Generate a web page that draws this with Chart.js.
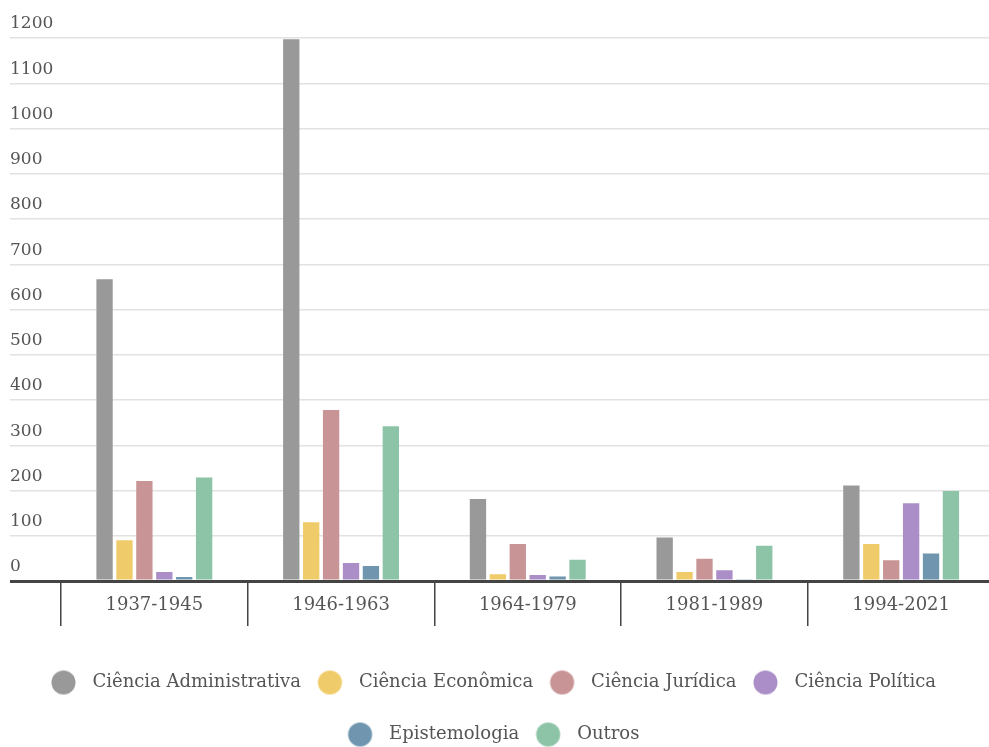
<!DOCTYPE html>
<html lang="pt">
<head>
<meta charset="utf-8">
<title>Produção por área e período</title>
<script src="https://cdn.jsdelivr.net/npm/chart.js@4/dist/chart.umd.min.js"></script>
<style>
  html, body { margin: 0; padding: 0; background: #ffffff; overflow: hidden; }
  #wrap { width: 1000px; height: 754px; }
</style>
</head>
<body>
<div id="wrap"><canvas id="chart" width="1000" height="754"></canvas></div>
<script>
// Periods on the category axis
const periods = ['1937-1945', '1946-1963', '1964-1979', '1981-1989', '1994-2021'];

// Counts per area, one value per period
const cienciaAdministrativa = [667, 1197, 181, 96, 211];
const cienciaEconomica      = [90, 130, 15, 20, 82];
const cienciaJuridica       = [221, 378, 82, 49, 46];
const cienciaPolitica       = [20, 40, 13, 24, 172];
const epistemologia         = [9, 33, 10, 4, 61];
const outros                = [229, 342, 47, 78, 199];

// Value axis ticks
const yTickValues = [0, 100, 200, 300, 400, 500, 600, 700, 800, 900, 1000, 1100, 1200];

const seriesNames = ['Ciência Administrativa', 'Ciência Econômica', 'Ciência Jurídica',
                     'Ciência Política', 'Epistemologia', 'Outros'];
const seriesValues = [cienciaAdministrativa, cienciaEconomica, cienciaJuridica,
                      cienciaPolitica, epistemologia, outros];
const seriesColors = ['#999999', '#f0cb6a', '#c99496', '#ab8ec7', '#6f96ae', '#8dc4a7'];

const FONT = "'DejaVu Serif', 'Liberation Serif', serif";
const TEXT = '#555555';
const LEGEND_SIZE = 18;
const LEGEND_PAD = 34;
const LEGEND_BOX = 58 - LEGEND_PAD - LEGEND_SIZE / 2;
const DOT_SHIFT = 29 - LEGEND_PAD - LEGEND_BOX / 2;

// Round legend marker with room around it so the dot sits left of the text gap
function makeDot(color) {
  const c = document.createElement('canvas');
  c.width = 80; c.height = 30;
  const g = c.getContext('2d');
  g.fillStyle = color;
  g.beginPath();
  g.arc(40 + DOT_SHIFT, 15, 12, 0, Math.PI * 2);
  g.fill();
  return c;
}
const dots = seriesColors.map(makeDot);

const datasets = seriesNames.map((name, i) => ({
  label: name,
  data: seriesValues[i],
  backgroundColor: seriesColors[i],
  borderWidth: 0,
  categoryPercentage: 0.64,
  barPercentage: 0.82
}));

new Chart(document.getElementById('chart'), {
  type: 'bar',
  data: { labels: periods, datasets },
  options: {
    responsive: false,
    animation: false,
    layout: { padding: { top: 38, left: 10, right: 5.5, bottom: 0.5 } },
    plugins: {
      tooltip: { enabled: false },
      legend: {
        position: 'bottom',
        labels: {
          usePointStyle: true,
          pointStyleWidth: LEGEND_BOX,
          padding: LEGEND_PAD,
          color: TEXT,
          font: { family: FONT, size: LEGEND_SIZE },
          generateLabels(chart) {
            const items = Chart.defaults.plugins.legend.labels.generateLabels(chart);
            items.forEach((it, i) => { it.pointStyle = dots[i]; });
            return items;
          }
        }
      }
    },
    scales: {
      x: {
        z: 1,
        grid: {
          offset: true,
          drawOnChartArea: false,
          drawTicks: true,
          tickLength: 45,
          color: '#444444',
          lineWidth: 1.5
        },
        border: { display: true, color: '#444444', width: 3 },
        ticks: {
          padding: -31,
          color: TEXT,
          font: { family: FONT, size: 18 }
        },
        afterFit(scale) { scale.height = 58.5; }
      },
      y: {
        min: 0,
        max: 1200,
        afterBuildTicks(scale) { scale.ticks = yTickValues.map(v => ({ value: v })); },
        grid: {
          drawTicks: true,
          tickLength: 51,
          color: ctx => (ctx.tick && ctx.tick.value === 0) ? '#444444' : '#e2e2e2',
          lineWidth: ctx => (ctx.tick && ctx.tick.value === 0) ? 3 : 1.5
        },
        border: { display: false },
        ticks: {
          crossAlign: 'far',
          labelOffset: -14,
          color: TEXT,
          font: { family: FONT, size: 17 },
          callback: v => String(v)
        },
        afterFit(scale) { scale.width = 51; }
      }
    }
  }
});
</script>
</body>
</html>
